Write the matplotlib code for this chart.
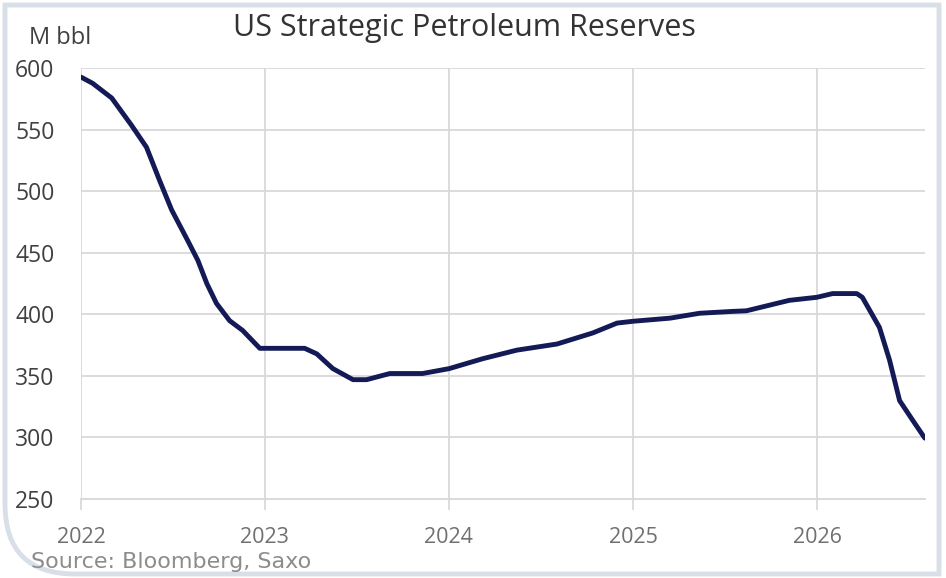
import matplotlib
matplotlib.use("Agg")
from matplotlib import pyplot as plt
from matplotlib.patches import PathPatch
from matplotlib.path import Path
from matplotlib.transforms import Affine2D
import matplotlib.dates as mdates
import pandas as pd


FIGURE_SIZE = [9.46, 5.78]
W_PX, H_PX = 946, 578
LINE_COLOR = "#141a55"
GRID_COLOR = "#d9d9d9"
FRAME_COLOR = "#d8dfe7"

# SPR stocks (million barrels)
dates = [
    "2022-01-01", "2022-01-24", "2022-03-03", "2022-04-11", "2022-05-11",
    "2022-06-06", "2022-06-30", "2022-08-01", "2022-08-21", "2022-09-08",
    "2022-09-27", "2022-10-23", "2022-11-18", "2022-12-22", "2023-03-21",
    "2023-04-14", "2023-05-16", "2023-06-25", "2023-07-22", "2023-09-06",
    "2023-11-10", "2024-01-02", "2024-03-08", "2024-05-15", "2024-08-03",
    "2024-10-13", "2024-11-30", "2025-01-01", "2025-03-15", "2025-05-13",
    "2025-07-17", "2025-08-14", "2025-11-07", "2026-01-01", "2026-02-01",
    "2026-03-21", "2026-04-01", "2026-05-05", "2026-05-25", "2026-06-14",
    "2026-07-10", "2026-08-03",
]
reserves = [
    593, 588, 576, 554, 536,
    509, 485, 460, 444, 425,
    409, 395, 387, 372.5, 372.5,
    368, 356, 347, 347, 352,
    352, 356, 364, 371, 376,
    385, 393, 394.5, 397, 401,
    402.5, 403, 411.5, 414, 417,
    417, 414, 389.5, 363, 330,
    314, 299.5,
]
years = [2022, 2023, 2024, 2025, 2026]
y_ticks = [250, 300, 350, 400, 450, 500, 550, 600]


def _draw_frame(fig):
    """ Screenshot border, rounded only at the bottom-left corner (pixel coords). """
    left, right, top, bottom, r = 5, 939, 5, 574, 70
    verts = [(left, top), (left, bottom - r), (left, bottom), (left + r, bottom),
             (right, bottom), (right, top), (left, top)]
    codes = [Path.MOVETO, Path.LINETO, Path.CURVE3, Path.CURVE3,
             Path.LINETO, Path.LINETO, Path.CLOSEPOLY]
    trans = Affine2D().scale(1.0, -1.0).translate(0, H_PX).scale(1.0 / W_PX, 1.0 / H_PX) + fig.transFigure
    patch = PathPatch(Path(verts, codes), fc="white", ec=FRAME_COLOR, lw=3.5,
                      transform=trans, zorder=-10)
    fig.patches.append(patch)


def plot_reserves():
    fig = plt.figure(figsize=FIGURE_SIZE, dpi=100)
    ax = fig.add_axes([0.0856, 0.1367, 0.8925, 0.7448])
    _draw_frame(fig)

    x = pd.to_datetime(dates)
    ax.plot(x, reserves, color=LINE_COLOR, lw=3.5, solid_capstyle="round", zorder=3)

    ax.set_xlim(pd.Timestamp("2022-01-01"), pd.Timestamp("2026-08-04"))
    ax.set_ylim(250, 600)
    ax.set_xticks([pd.Timestamp(f"{y}-01-01") for y in years])
    ax.xaxis.set_major_formatter(mdates.DateFormatter("%Y"))
    ax.set_yticks(y_ticks)

    ax.grid(True, color=GRID_COLOR, lw=1.3)
    ax.set_axisbelow(True)
    for side in ["top", "right", "left"]:
        ax.spines[side].set_visible(False)
    ax.spines["bottom"].set_color(GRID_COLOR)
    ax.spines["bottom"].set_linewidth(1.3)

    ax.tick_params(axis="x", length=8, width=1.3, color=GRID_COLOR, pad=12,
                   labelsize=15.5, labelcolor="#707070")
    ax.tick_params(axis="y", length=0, pad=19, labelsize=16.5, labelcolor="#404040")
    for lbl in ax.get_xticklabels() + ax.get_yticklabels():
        lbl.set_fontfamily("Open Sans")

    fig.text(0.4905, 0.951, "US Strategic Petroleum Reserves", ha="center", va="center",
             fontsize=22, color="#333333", family="Open Sans")
    fig.text(0.031, 0.934, "M bbl", ha="left", va="center",
             fontsize=17, color="#404040", family="Open Sans")
    fig.text(0.033, 0.028, "Source: Bloomberg, Saxo", ha="left", va="center",
             fontsize=16, color="#8c8c8c", family="DejaVu Sans")

    fig.savefig("out.png", dpi=100)
    return fig


if __name__ == "__main__":
    plot_reserves()
